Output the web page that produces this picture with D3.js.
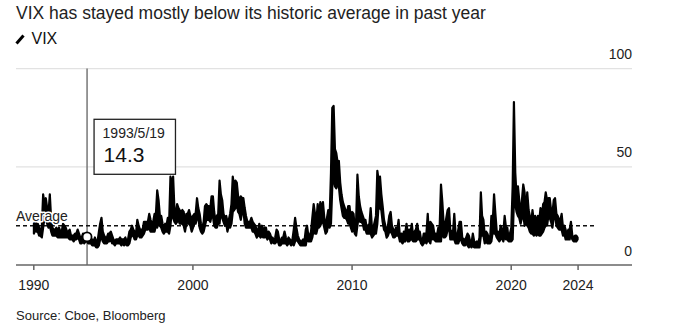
<!DOCTYPE html>
<html>
<head>
<meta charset="utf-8">
<script src="https://cdn.jsdelivr.net/npm/d3@7"></script>
<style>
  html, body { margin: 0; padding: 0; background: #fff; }
  svg { display: block; font-family: "Liberation Sans", Arial, sans-serif; }
</style>
</head>
<body>
<svg id="chart" width="676" height="330"></svg>
<script>
// ---------- DATA ----------
const title = "VIX has stayed mostly below its historic average in past year";
const seriesName = "VIX";
const sourceText = "Source: Cboe, Bloomberg";
const firstMonth = "1990-01";           // monthly series start
// Monthly low / high of VIX, Jan 1990 .. Mar 2024
const vixLow = [
  16,18,17,17,15,15,14,19,24,24,21,19,   // 1990
  20,17,15,15,15,15,14,14,14,14,14,14,   // 1991
  14,14,14,13,13,13,12,13,13,14,13,11,   // 1992
  11,12,11,12,12,11,11,11,10,10,10,9,    // 1993
  9,10,13,14,12,11,11,11,12,12,13,11,    // 1994
  11,10,11,11,11,11,10,11,10,11,10,10,   // 1995
  11,14,15,15,13,13,15,15,14,14,15,16,   // 1996
  18,18,18,19,17,17,17,17,20,19,24,20,   // 1997
  19,17,16,17,17,17,16,20,28,24,22,21,   // 1998
  22,23,21,21,21,20,17,21,21,21,20,17,   // 1999
  19,21,21,24,24,19,17,16,17,20,23,23,   // 2000
  23,22,25,25,20,19,19,21,21,28,24,22,   // 2001
  20,21,17,20,19,21,27,28,29,31,27,26,   // 2002
  23,27,28,21,19,19,19,19,19,17,17,16,   // 2003
  14,15,15,14,15,14,14,15,13,14,13,11,   // 2004
  12,11,11,12,12,10,10,11,11,11,11,10,   // 2005
  11,11,10,11,10,12,13,12,11,10,10,10,   // 2006
  10,10,14,12,12,12,14,18,16,16,19,19,   // 2007
  20,22,22,19,16,17,21,19,21,40,47,40,   // 2008
  39,41,40,33,29,25,24,24,23,21,21,19,   // 2009
  17,19,16,15,20,25,22,22,21,18,18,16,   // 2010
  16,16,16,14,15,16,16,21,31,29,28,22,   // 2011
  18,17,14,15,17,17,16,14,14,15,15,15,   // 2012
  12,12,11,12,12,15,12,12,13,13,12,12,   // 2013
  12,13,13,13,11,10,11,12,11,13,12,11,   // 2014
  16,13,13,12,12,12,12,12,21,14,14,15,   // 2015
  18,20,13,13,13,13,11,11,11,13,13,11,   // 2016
  10,10,11,10,9,10,9,10,9,9,9,9,         // 2017
  9,15,15,15,11,12,11,11,11,12,17,16,    // 2018
  16,14,13,12,13,14,12,15,13,13,12,12,   // 2019
  12,13,33,31,27,25,24,21,24,26,20,21,   // 2020
  20,19,17,16,16,15,16,15,16,15,15,16,   // 2021
  17,19,20,20,25,24,22,19,24,26,20,19,   // 2022
  18,18,18,15,16,13,13,13,13,17,13,12,   // 2023
  12,12,13                               // 2024
];
const vixHigh = [
  21,22,21,21,19,18,19,36,31,34,29,26,   // 1990
  36,23,19,18,18,19,17,19,17,17,21,20,   // 1991
  19,17,17,18,15,15,15,16,16,18,16,14,   // 1992
  14,16,14,15,15,14,13,13,13,12,14,12,   // 1993
  12,17,21,24,17,15,14,14,16,16,17,15,   // 1994
  13,12,13,13,13,14,13,13,13,14,12,13,   // 1995
  17,18,20,18,17,16,23,20,18,18,18,22,   // 1996
  22,22,22,26,23,21,22,26,26,38,33,25,   // 1997
  25,21,19,21,20,24,21,45,41,45,28,26,   // 1998
  31,29,28,27,28,27,21,26,26,28,25,24,   // 1999
  25,26,26,34,29,26,21,19,22,30,31,30,   // 2000
  30,29,35,35,27,22,25,26,43,36,33,26,   // 2001
  24,25,22,23,26,31,45,40,43,42,35,33,   // 2002
  35,34,34,29,25,22,22,22,24,22,21,20,   // 2003
  18,17,21,18,20,17,19,19,15,17,16,14,   // 2004
  14,12,14,18,17,13,12,14,14,17,14,12,   // 2005
  14,13,12,13,18,24,19,15,13,12,12,13,   // 2006
  12,18,20,15,15,17,24,31,26,22,31,24,   // 2007
  32,28,32,24,19,24,28,24,47,80,81,59,   // 2008
  57,52,53,42,36,32,30,28,26,30,30,23,   // 2009
  27,26,19,22,46,35,30,27,25,23,23,19,   // 2010
  20,21,29,18,19,22,25,48,43,45,36,30,   // 2011
  23,20,16,20,25,27,20,18,17,19,18,23,   // 2012
  14,16,14,17,16,21,16,18,17,21,14,17,   // 2013
  18,21,17,17,13,12,16,16,16,26,14,22,   // 2014
  21,20,16,16,15,19,19,41,32,21,20,24,   // 2015
  28,29,18,17,16,26,16,14,18,22,22,14,   // 2016
  13,13,14,16,15,12,11,16,12,11,12,11,   // 2017
  14,37,25,23,15,17,16,14,13,25,22,36,   // 2018
  26,17,17,15,20,18,16,25,19,19,13,16,   // 2019
  19,40,83,47,35,40,33,25,33,41,37,26,   // 2020
  37,28,25,21,28,22,25,22,25,22,29,24,   // 2021
  31,32,37,33,34,34,28,26,33,34,26,25,   // 2022
  23,23,26,19,20,18,15,18,18,22,15,14,   // 2023
  15,15,14                               // 2024
];
const historicAverage = 20;
const averageLabel = "Average";
const highlightDate = "1993-05-19";
const highlightLabel = "1993/5/19";
const highlightValue = 14.3;
const xTickDates = ["1990-01-01", "2000-01-01", "2010-01-01", "2020-01-01", "2024-03-15"];
const xTickLabels = ["1990", "2000", "2010", "2020", "2024"];
const yTicks = [0, 50, 100];

// ---------- LAYOUT ----------
const plotLeft = 16, plotRight = 632;
const parseDay = d3.timeParse("%Y-%m-%d");
const parseMonth = d3.timeParse("%Y-%m");
const start = parseMonth(firstMonth);
const rows = vixLow.map((lo, i) => ({
  date: d3.timeDay.offset(d3.timeMonth.offset(start, i), 14),
  lo: lo, hi: vixHigh[i]
}));

const x = d3.scaleTime()
  .domain([parseDay("1990-01-01"), parseDay("2020-01-01")])
  .range([33.3, 510.7]);
const y = d3.scaleLinear().domain([0, 100]).range([265, 68.6]);

const svg = d3.select("#chart");

// Title
svg.append("text").attr("x", 16).attr("y", 18.5)
  .attr("font-size", 17.5).attr("fill", "#222").text(title);

// Legend
svg.append("line").attr("x1", 16.5).attr("y1", 43.5).attr("x2", 23.5).attr("y2", 35.5)
  .attr("stroke", "#000").attr("stroke-width", 3);
svg.append("text").attr("x", 31.5).attr("y", 43.5)
  .attr("font-size", 16).attr("fill", "#111").text(seriesName);

// Gridlines + y labels
yTicks.forEach(v => {
  if (v !== 0) {
    svg.append("line").attr("x1", plotLeft).attr("x2", plotRight)
      .attr("y1", y(v)).attr("y2", y(v))
      .attr("stroke", "#e2e2e2").attr("stroke-width", 1.2);
  }
  svg.append("text").attr("x", plotRight).attr("y", y(v) - 9.5)
    .attr("text-anchor", "end").attr("font-size", 14).attr("fill", "#222")
    .text(v);
});

// Highlight vertical line
const hx = x(parseDay(highlightDate));
svg.append("line").attr("x1", hx).attr("x2", hx).attr("y1", y(100)).attr("y2", y(0))
  .attr("stroke", "#777").attr("stroke-width", 1.5);

// Average dashed line
svg.append("line").attr("x1", plotLeft).attr("x2", 595)
  .attr("y1", y(historicAverage)).attr("y2", y(historicAverage))
  .attr("stroke", "#111").attr("stroke-width", 1.4).attr("stroke-dasharray", "4,3");

// Series band (monthly low..high)
const area = d3.area().x(d => x(d.date)).y0(d => y(d.lo)).y1(d => y(d.hi));
svg.append("path").datum(rows).attr("d", area)
  .attr("fill", "#000").attr("stroke", "#000").attr("stroke-width", 2.2)
  .attr("stroke-linejoin", "round");

// Average label (on top of series, white halo)
svg.append("text").attr("x", 16).attr("y", y(historicAverage) - 5)
  .attr("font-size", 14).attr("fill", "#222")
  .attr("stroke", "#fff").attr("stroke-width", 3).attr("stroke-linejoin", "round")
  .attr("paint-order", "stroke")
  .text(averageLabel);

// X axis
const xAxis = d3.axisBottom(x)
  .tickValues(xTickDates.map(parseDay))
  .tickFormat((d, i) => xTickLabels[i])
  .tickSize(5).tickPadding(10);
const gx = svg.append("g").attr("transform", `translate(0,${y(0)})`).call(xAxis);
gx.select(".domain").remove();
gx.selectAll(".tick line").attr("stroke", "#666").attr("stroke-width", 1.5);
gx.selectAll(".tick text").attr("font-size", 14).attr("fill", "#222")
  .attr("font-family", "Liberation Sans, Arial, sans-serif");
svg.append("line").attr("x1", plotLeft).attr("x2", plotRight)
  .attr("y1", y(0)).attr("y2", y(0)).attr("stroke", "#666").attr("stroke-width", 1.5);

// Highlight marker
svg.append("circle").attr("cx", hx).attr("cy", y(highlightValue)).attr("r", 4.5)
  .attr("fill", "#fff").attr("stroke", "#000").attr("stroke-width", 1.8);

// Tooltip box
const tip = svg.append("g").attr("transform", `translate(${hx + 7},${119.3})`);
tip.append("rect").attr("x", 0).attr("y", 0).attr("width", 81.4).attr("height", 55)
  .attr("fill", "#fff").attr("stroke", "#222").attr("stroke-width", 1.3);
tip.append("text").attr("x", 8.5).attr("y", 19).attr("font-size", 14)
  .attr("fill", "#222").text(highlightLabel);
tip.append("text").attr("x", 9.5).attr("y", 42.5).attr("font-size", 21)
  .attr("fill", "#111").text(highlightValue.toFixed(1));

// Source
svg.append("text").attr("x", 16).attr("y", 320).attr("font-size", 13)
  .attr("fill", "#222").text(sourceText);
</script>
</body>
</html>
